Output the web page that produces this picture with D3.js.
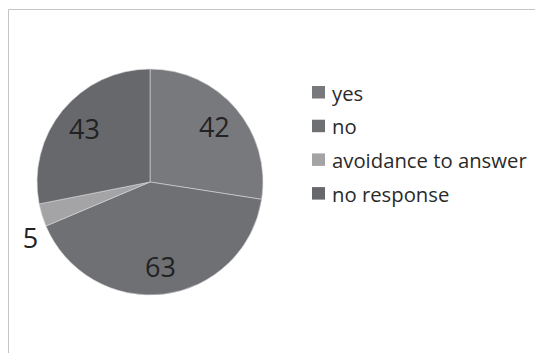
<!DOCTYPE html>
<html>
<head>
<meta charset="utf-8">
<script src="https://cdn.jsdelivr.net/npm/d3@7/dist/d3.min.js"></script>
<style>
  html, body { margin: 0; padding: 0; background: #fff; }
  svg { display: block; }
</style>
</head>
<body>
<script>
// Survey answers shown as a pie, clockwise from 12 o'clock
const categories = ["yes", "no", "avoidance to answer", "no response"];
const values = [42, 63, 5, 43];
const colors = ["#78797d", "#6f7074", "#a4a4a6", "#67686c"];

const width = 535, height = 353;
const cx = 150, cy = 182, radius = 113;

const svg = d3.select("body").append("svg")
  .attr("width", width)
  .attr("height", height);

// chart frame (left and top edges visible)
svg.append("path")
  .attr("d", `M8.5,${height} L8.5,9.5 L${width},9.5`)
  .attr("fill", "none")
  .attr("stroke", "#c4c4c4")
  .attr("stroke-width", 1);

const data = categories.map((c, i) => ({ name: c, value: values[i], color: colors[i] }));

const pie = d3.pie().value(d => d.value).sort(null);
const arcs = pie(data);

const arc = d3.arc().innerRadius(0).outerRadius(radius);
const labelArc = d3.arc().innerRadius(radius * 0.75).outerRadius(radius * 0.75);
const outerArc = d3.arc().innerRadius(radius + 12).outerRadius(radius + 12);

const g = svg.append("g").attr("transform", `translate(${cx},${cy})`);

g.selectAll("path.slice")
  .data(arcs)
  .enter().append("path")
  .attr("class", "slice")
  .attr("d", arc)
  .attr("fill", d => d.data.color)
  .attr("stroke", "#d8d8da")
  .attr("stroke-width", 0.6);

// value labels: inside for large slices, outside (below the edge) for small ones
g.selectAll("text.val")
  .data(arcs)
  .enter().append("text")
  .attr("class", "val")
  .attr("transform", d => {
    const small = (d.endAngle - d.startAngle) < 0.4;
    const [x, y] = small ? outerArc.centroid(d) : labelArc.centroid(d);
    return `translate(${x},${small ? y + 19 : y})`;
  })
  .attr("text-anchor", "middle")
  .attr("dominant-baseline", "central")
  .attr("font-family", "'Open Sans', sans-serif")
  .attr("font-size", 27)
  .attr("fill", "#222")
  .text(d => d.data.value);

// legend
const legend = svg.append("g").attr("transform", "translate(312,86)");
const rowH = 33.7;
const rows = legend.selectAll("g.row")
  .data(data)
  .enter().append("g")
  .attr("class", "row")
  .attr("transform", (d, i) => `translate(0,${i * rowH})`);

rows.append("rect")
  .attr("width", 13)
  .attr("height", 12.5)
  .attr("fill", d => d.color);

rows.append("text")
  .attr("x", 20)
  .attr("y", 6.5)
  .attr("dominant-baseline", "central")
  .attr("font-family", "'Open Sans', sans-serif")
  .attr("font-size", 20.3)
  .attr("fill", "#2a2a2a")
  .text(d => d.name);
</script>
</body>
</html>
